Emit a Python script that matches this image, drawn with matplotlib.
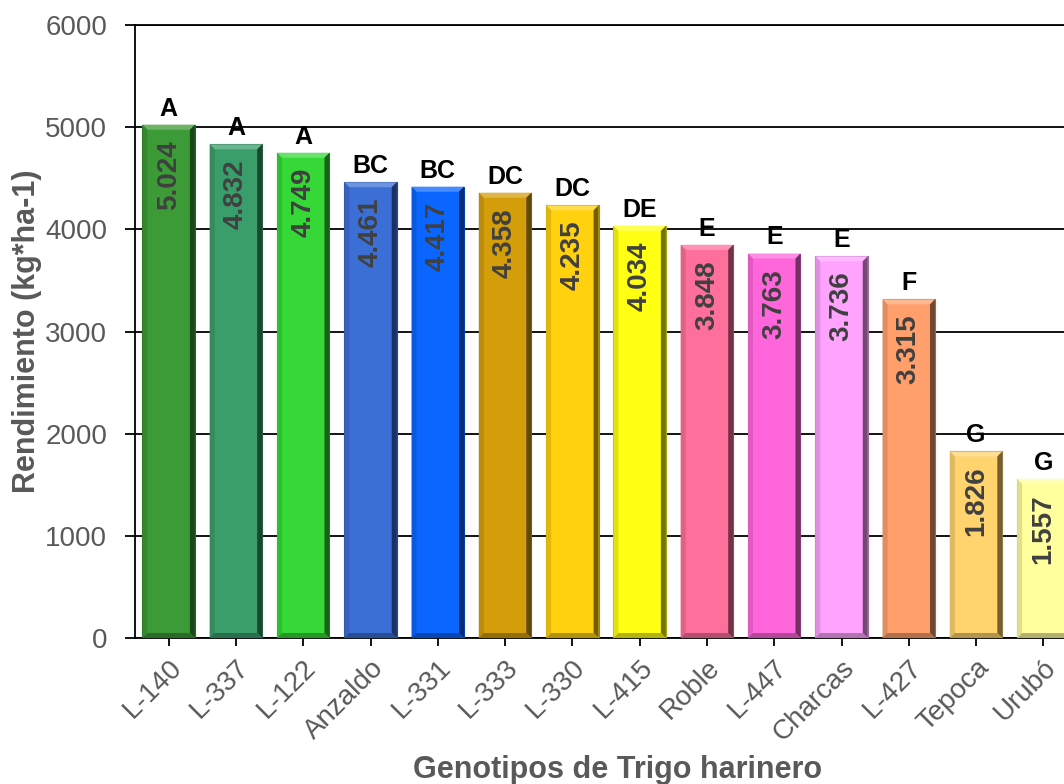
import matplotlib
matplotlib.use("Agg")
import matplotlib.pyplot as plt
from matplotlib.colors import to_rgb
from matplotlib.patches import Polygon

plt.rcParams["font.family"] = ["Liberation Sans", "DejaVu Sans"]

# ── Data ──────────────────────────────────────────────────────────────────────
genotipos = ["L-140", "L-337", "L-122", "Anzaldo", "L-331", "L-333", "L-330",
             "L-415", "Roble", "L-447", "Charcas", "L-427", "Tepoca", "Urubó"]
rendimiento = [5024, 4832, 4749, 4461, 4417, 4358, 4235,
               4034, 3848, 3763, 3736, 3315, 1826, 1557]
grupos = ["A", "A", "A", "BC", "BC", "DC", "DC",
          "DE", "E", "E", "E", "F", "G", "G"]
colores = ["#3C9B37", "#3A9E6B", "#36D838", "#3B6FD6", "#0A66FF", "#D49E0A",
           "#FFD10F", "#FFFF14", "#FF6F9C", "#FF66DC", "#FFA3FF", "#FFA06C",
           "#FFD36E", "#FFFF9E"]

GRIS = "#595959"
W, H, DPI = 1064, 784, 100


def mezcla(c, otro, t):
    a, b = to_rgb(c), to_rgb(otro)
    return tuple(x * (1 - t) + y * t for x, y in zip(a, b))


fig = plt.figure(figsize=(W / DPI, H / DPI), dpi=DPI)
# plot area runs slightly past the right edge of the canvas
ax = fig.add_axes([135 / W, (H - 638) / H, (1077 - 135) / W, (638 - 25) / H])
ax.set_xlim(-0.5, len(genotipos) - 0.5)
ax.set_ylim(0, 6000)

# bevel size in data units (about 5 px)
bev_px = 5
px_x = (1077 - 135) / len(genotipos)
px_y = (638 - 25) / 6000
bx, by = bev_px / px_x, bev_px / px_y

ancho = 0.78
x = range(len(genotipos))
bars = ax.bar(x, rendimiento, width=ancho, color=colores, zorder=3,
              edgecolor=[mezcla(c, "black", 0.35) for c in colores], linewidth=0.8)

for b, c in zip(bars, colores):
    x0, x1 = b.get_x(), b.get_x() + b.get_width()
    h = b.get_height()
    caras = [
        ([(x0, h), (x1, h), (x1 - bx, h - by), (x0 + bx, h - by)], mezcla(c, "white", 0.25)),
        ([(x0, 0), (x0 + bx, by), (x0 + bx, h - by), (x0, h)], mezcla(c, "black", 0.12)),
        ([(x1, 0), (x1 - bx, by), (x1 - bx, h - by), (x1, h)], mezcla(c, "black", 0.55)),
        ([(x0, 0), (x1, 0), (x1 - bx, by), (x0 + bx, by)], mezcla(c, "black", 0.3)),
    ]
    for pts, col in caras:
        ax.add_patch(Polygon(pts, closed=True, facecolor=col, edgecolor="none", zorder=4))

# value inside each bar, significance letter above
for b, v, g in zip(bars, rendimiento, grupos):
    xc = b.get_x() + b.get_width() / 2
    ax.annotate(f"{v / 1000:.3f}", (xc, v), xytext=(0, -11), textcoords="offset points",
                rotation=90, ha="center", va="top", fontsize=20, fontweight="bold",
                color="#404040", zorder=5)
    ax.annotate(g, (xc, v), xytext=(0, 3), textcoords="offset points",
                ha="center", va="bottom", fontsize=18, fontweight="bold",
                color="black", zorder=5)

ax.set_yticks(range(0, 6001, 1000))
ax.yaxis.grid(True, color="black", linewidth=1.3, zorder=0)
ax.set_axisbelow(True)
ax.set_xticks(list(x))
ax.set_xticklabels(genotipos, rotation=45, ha="right", rotation_mode="anchor")

ax.tick_params(axis="y", length=7, width=1.3, color="black", pad=13,
               labelsize=20, labelcolor=GRIS)
ax.tick_params(axis="x", length=6, width=1.3, color="black", pad=6,
               labelsize=20, labelcolor=GRIS)

for s in ["left", "bottom", "top"]:
    ax.spines[s].set_linewidth(1.3)
    ax.spines[s].set_color("black")
ax.spines["right"].set_visible(False)

fig.text(27 / W, (H - 331) / H, "Rendimiento (kg*ha-1)", rotation=90,
         ha="center", va="center", fontsize=22, fontweight="bold", color=GRIS)
fig.text(618 / W, (H - 770) / H, "Genotipos de Trigo harinero",
         ha="center", va="center", fontsize=22, fontweight="bold", color=GRIS)

fig.savefig("out.png", dpi=DPI, facecolor="white")
